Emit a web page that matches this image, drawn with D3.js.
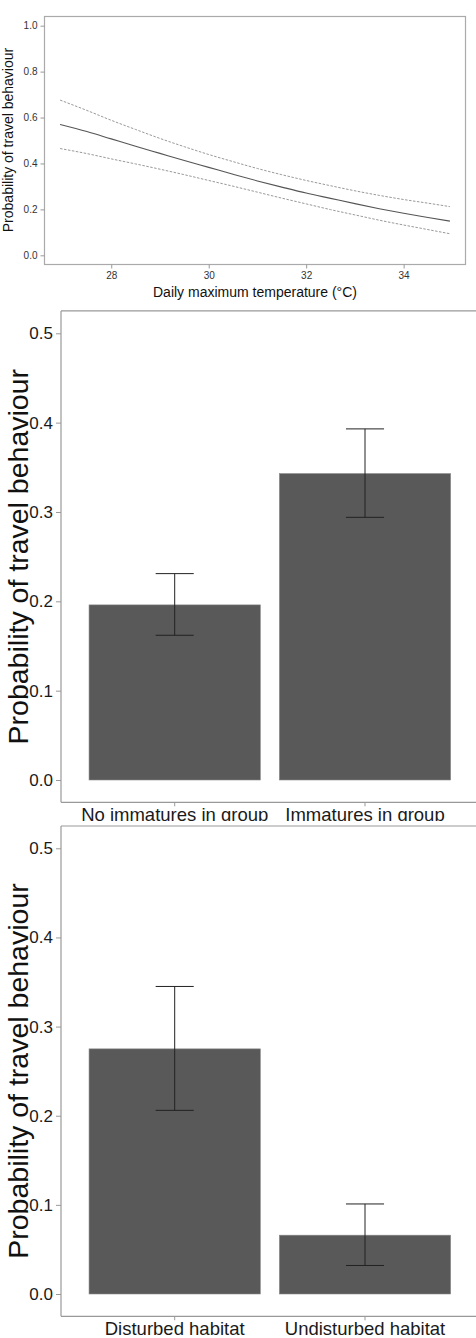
<!DOCTYPE html>
<html>
<head>
<meta charset="utf-8">
<script src="https://cdn.jsdelivr.net/npm/d3@7"></script>
<style>
  body { margin: 0; background: #fff; }
  svg { display: block; font-family: "Liberation Sans", Arial, sans-serif; }
</style>
</head>
<body>
<div class="flex-container"></div>
<script>
// top panel: fitted curve + 95% CI vs daily max temperature
const tempX     = [26.95, 27.5, 28, 28.5, 29, 29.5, 30, 30.5, 31, 31.5, 32, 32.5, 33, 33.5, 34, 34.5, 34.95];
const tempFit   = [0.570, 0.539, 0.507, 0.475, 0.444, 0.413, 0.383, 0.353, 0.324, 0.297, 0.271, 0.248, 0.225, 0.203, 0.183, 0.165, 0.149];
const tempUpper = [0.676, 0.631, 0.588, 0.548, 0.509, 0.473, 0.439, 0.408, 0.378, 0.351, 0.326, 0.303, 0.281, 0.261, 0.243, 0.227, 0.212];
const tempLower = [0.465, 0.443, 0.420, 0.398, 0.375, 0.351, 0.326, 0.301, 0.275, 0.249, 0.224, 0.199, 0.176, 0.153, 0.132, 0.112, 0.094];
const tempTicksX = [28, 30, 32, 34];
const tempTicksY = [0, 0.2, 0.4, 0.6, 0.8, 1.0];

// middle panel: immatures
const groupCats = ["No immatures in group", "Immatures in group"];
const groupProb = [0.196, 0.343];
const groupLo   = [0.162, 0.294];
const groupHi   = [0.231, 0.393];

// bottom panel: habitat
const habitatCats = ["Disturbed habitat", "Undisturbed habitat"];
const habitatProb = [0.275, 0.066];
const habitatLo   = [0.206, 0.032];
const habitatHi   = [0.345, 0.101];

const barTicks = [0, 0.1, 0.2, 0.3, 0.4, 0.5];

const w = 476;
const h = 1338;

const svg = d3.select(".flex-container")
  .append("svg")
  .attr("width", w)
  .attr("height", h);

// ---------- panel 1 ----------
const p1 = svg.append("g");

const x1 = d3.scaleLinear().domain([26.62, 35.28]).range([44, 466]);
const y1 = d3.scaleLinear().domain([-0.04, 1.04]).range([264.5, 16.5]);

p1.append("rect")
  .attr("x", 44.5).attr("y", 16.5)
  .attr("width", 421).attr("height", 248)
  .attr("fill", "none").attr("stroke", "#aaa").attr("stroke-width", 1.2);

const ax1 = p1.append("g")
  .attr("transform", "translate(0,264.5)")
  .call(d3.axisBottom(x1).tickValues(tempTicksX).tickSize(4).tickPadding(3).tickFormat(d3.format("d")));
const ay1 = p1.append("g")
  .attr("transform", "translate(44.5,0)")
  .call(d3.axisLeft(y1).tickValues(tempTicksY).tickSize(4).tickPadding(3).tickFormat(d3.format(".1f")));
[ax1, ay1].forEach(a => {
  a.select(".domain").remove();
  a.selectAll(".tick line").attr("stroke", "#999");
  a.selectAll(".tick text").attr("fill", "#333").style("font-size", "10px");
});

const line1 = (vals) => d3.line()
  .x((d, i) => x1(tempX[i]))
  .y(d => y1(d))
  .curve(d3.curveMonotoneX)(vals);

p1.append("path").attr("d", line1(tempUpper))
  .attr("fill", "none").attr("stroke", "#999").attr("stroke-width", 1).attr("stroke-dasharray", "2.5,1.5");
p1.append("path").attr("d", line1(tempLower))
  .attr("fill", "none").attr("stroke", "#999").attr("stroke-width", 1).attr("stroke-dasharray", "2.5,1.5");
p1.append("path").attr("d", line1(tempFit))
  .attr("fill", "none").attr("stroke", "#555").attr("stroke-width", 1.1);

p1.append("text")
  .attr("x", 255).attr("y", 297)
  .attr("text-anchor", "middle")
  .style("font-size", "14px").attr("fill", "#111")
  .text("Daily maximum temperature (°C)");

p1.append("text")
  .attr("transform", "translate(12.5,140) rotate(-90)")
  .attr("text-anchor", "middle")
  .style("font-size", "14px").attr("fill", "#111")
  .text("Probability of travel behaviour");

// ---------- bar panels ----------
function barPanel(g, cats, prob, lo, hi, y0, y5, titleY) {
  const x = d3.scaleBand().domain(cats).range([60.5, 479.2]).paddingInner(0.1).paddingOuter(0.15);
  const y = d3.scaleLinear().domain([0, 0.5]).range([y0, y5]);
  const top = y(0.525), bot = y(-0.025);

  g.append("line").attr("x1", 61).attr("x2", w).attr("y1", top).attr("y2", top)
    .attr("stroke", "#999").attr("stroke-width", 1.2);
  g.append("line").attr("x1", 61).attr("x2", w).attr("y1", bot).attr("y2", bot)
    .attr("stroke", "#999").attr("stroke-width", 1.2);
  g.append("line").attr("x1", 61).attr("x2", 61).attr("y1", top).attr("y2", bot)
    .attr("stroke", "#999").attr("stroke-width", 1.2);

  g.selectAll("rect.bar")
    .data(cats)
    .enter()
    .append("rect")
    .attr("class", "bar")
    .attr("x", d => x(d))
    .attr("y", (d, i) => y(prob[i]))
    .attr("width", x.bandwidth())
    .attr("height", (d, i) => y(0) - y(prob[i]))
    .attr("fill", "#595959")
    .attr("stroke", "#8a8a8a").attr("stroke-width", 0.6);

  const capW = x.step() * 0.2;
  cats.forEach((c, i) => {
    const cx = x(c) + x.bandwidth() / 2;
    g.append("line").attr("x1", cx).attr("x2", cx).attr("y1", y(hi[i])).attr("y2", y(lo[i]))
      .attr("stroke", "#222").attr("stroke-width", 1);
    [hi[i], lo[i]].forEach(v => {
      g.append("line").attr("x1", cx - capW / 2).attr("x2", cx + capW / 2).attr("y1", y(v)).attr("y2", y(v))
        .attr("stroke", "#222").attr("stroke-width", 1);
    });
  });

  const ay = g.append("g")
    .attr("transform", "translate(61,0)")
    .call(d3.axisLeft(y).tickValues(barTicks).tickSize(5).tickPadding(3).tickFormat(d3.format(".1f")));
  ay.select(".domain").remove();
  ay.selectAll(".tick line").attr("stroke", "#999");
  ay.selectAll(".tick text").attr("fill", "#1a1a1a").style("font-size", "17px");

  const ax = g.append("g")
    .attr("transform", "translate(0," + bot + ")")
    .call(d3.axisBottom(x).tickSize(4).tickPadding(4));
  ax.select(".domain").remove();
  ax.selectAll(".tick line").attr("stroke", "#999");
  ax.selectAll(".tick text").attr("fill", "#1a1a1a").style("font-size", "18.5px")
    .attr("dy", null).attr("y", 18.5);

  g.append("text")
    .attr("transform", "translate(28," + titleY + ") rotate(-90)")
    .attr("text-anchor", "middle")
    .style("font-size", "28.5px").attr("fill", "#111")
    .text("Probability of travel behaviour");
}

svg.append("defs").append("clipPath").attr("id", "clip2")
  .append("rect").attr("x", 0).attr("y", 300).attr("width", w).attr("height", 521);

const p2 = svg.append("g").attr("clip-path", "url(#clip2)");
barPanel(p2, groupCats, groupProb, groupLo, groupHi, 780, 333.3, 556.7);

const p3 = svg.append("g");
barPanel(p3, habitatCats, habitatProb, habitatLo, habitatHi, 1294, 848.3, 1071);
</script>
</body>
</html>
